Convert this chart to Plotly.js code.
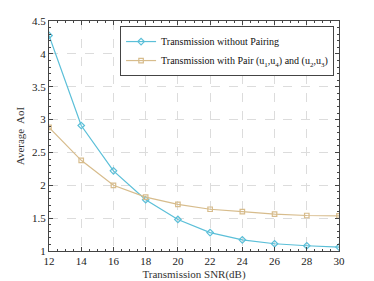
<!DOCTYPE html>
<html>
<head>
<meta charset="utf-8">
<script src="https://cdn.plot.ly/plotly-3.0.1.min.js"></script>
<style>html,body{margin:0;padding:0;background:#fff;}#chart{width:374px;height:281px;}</style>
</head>
<body>
<div id="chart"></div>
<script>
const snr = [12, 14, 16, 18, 20, 22, 24, 26, 28, 30];
const noPairing = [4.28, 2.91, 2.22, 1.78, 1.48, 1.28, 1.17, 1.11, 1.08, 1.06];
const withPair = [2.88, 2.38, 2.00, 1.82, 1.71, 1.635, 1.60, 1.56, 1.54, 1.535];
const xTicks = [12, 14, 16, 18, 20, 22, 24, 26, 28, 30];
const yTicks = [1, 1.5, 2, 2.5, 3, 3.5, 4, 4.5];
const yTickText = ['1', '1.5', '2', '2.5', '3', '3.5', '4', '4.5'];
const name1 = 'Transmission without Pairing';
const name2 = 'Transmission with Pair (u<sub>1</sub>,u<sub>4</sub>) and (u<sub>2</sub>,u<sub>3</sub>)';

const blue = '#5bbfd8';
const tan = '#d7bc8c';
const serif = 'Liberation Serif';

const traces = [
  {x: snr, y: noPairing, name: name1, type: 'scatter', mode: 'lines+markers',
   line: {color: blue, width: 1.2},
   marker: {symbol: 'diamond-open', size: 5, color: blue, line: {width: 1.2}}},
  {x: snr, y: withPair, name: name2, type: 'scatter', mode: 'lines+markers',
   line: {color: tan, width: 1.2},
   marker: {symbol: 'square-open', size: 4.5, color: tan, line: {width: 1.2}}}
];

const layout = {
  width: 374, height: 281,
  margin: {l: 49, r: 35, t: 21, b: 30},
  paper_bgcolor: '#fff', plot_bgcolor: '#fff',
  font: {family: serif, size: 11, color: '#333'},
  showlegend: true,
  legend: {x: 0.983, xanchor: 'right', y: 0.978, yanchor: 'top',
    bgcolor: '#fff', bordercolor: '#444', borderwidth: 1,
    font: {family: serif, size: 10, color: '#111'},
    tracegroupgap: 0, itemwidth: 30},
  xaxis: {
    range: [12, 30], tickvals: xTicks, ticktext: xTicks.map(String),
    showline: true, linecolor: '#444', linewidth: 1, mirror: 'allticks',
    ticks: 'inside', ticklen: 4, tickcolor: '#444',
    showgrid: true, gridcolor: '#dcdcdc', griddash: 'dash', gridwidth: 1,
    zeroline: false,
    minor: {dtick: 0.5, ticks: 'inside', ticklen: 2, tickcolor: '#444', showgrid: false},
    title: {text: 'Transmission SNR(dB)', standoff: 4, font: {family: serif, size: 11, color: '#333'}},
    tickfont: {family: serif, size: 11, color: '#222'}
  },
  yaxis: {
    range: [1, 4.5], tickvals: yTicks, ticktext: yTickText,
    showline: true, linecolor: '#444', linewidth: 1, mirror: 'allticks',
    ticks: 'inside', ticklen: 4, tickcolor: '#444',
    showgrid: true, gridcolor: '#dcdcdc', griddash: 'dash', gridwidth: 1,
    zeroline: false,
    minor: {dtick: 0.1, ticks: 'inside', ticklen: 2, tickcolor: '#444', showgrid: false},
    title: {text: 'Average  AoI', standoff: 5, font: {family: serif, size: 11, color: '#333'}},
    tickfont: {family: serif, size: 11, color: '#222'}
  }
};

Plotly.newPlot('chart', traces, layout, {displayModeBar: false, staticPlot: true});
</script>
</body>
</html>
